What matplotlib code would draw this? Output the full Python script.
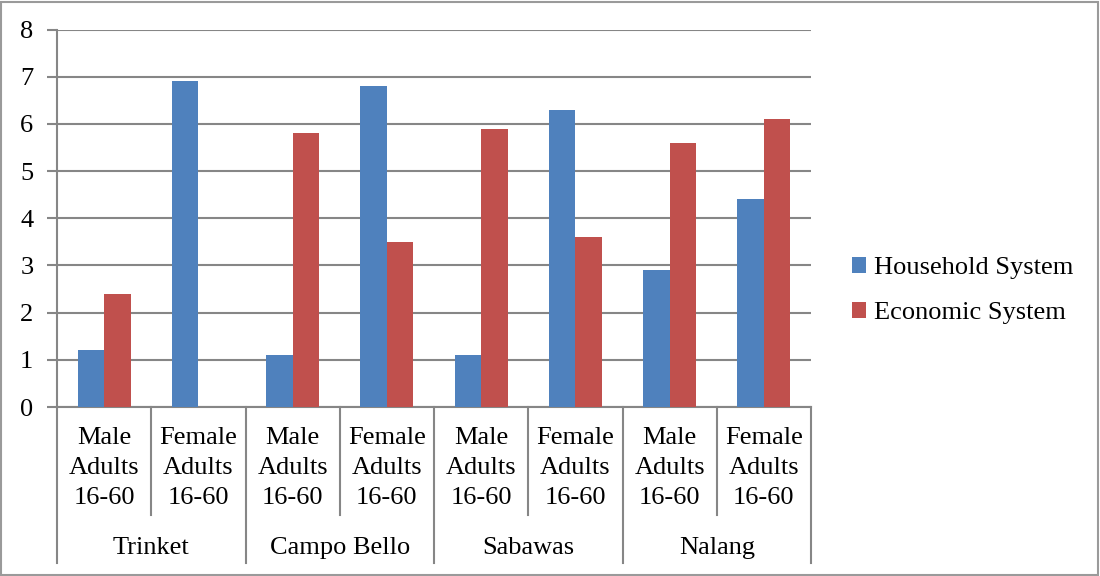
import matplotlib
matplotlib.use('Agg')
import matplotlib.pyplot as plt
import matplotlib.transforms as mtransforms
from matplotlib.patches import Rectangle
import numpy as np

plt.rcParams['font.family'] = ['Liberation Serif', 'DejaVu Serif']

# data
groups = ['Trinket', 'Campo Bello', 'Sabawas', 'Nalang']
sub_labels = ['Male\nAdults\n16-60', 'Female\nAdults\n16-60']
household = [1.2, 6.9, 1.1, 6.8, 1.1, 6.3, 2.9, 4.4]
economic = [2.4, 0, 5.8, 3.5, 5.9, 3.6, 5.6, 6.1]
yticks = [0, 1, 2, 3, 4, 5, 6, 7, 8]

W, H = 1100, 576
fs = 19
fig = plt.figure(figsize=(11, 5.76), dpi=100)

# plot area in pixels
left, right, top, bottom = 57, 811, 29.5, 407
ax = fig.add_axes([left / W, (H - bottom) / H, (right - left) / W, (bottom - top) / H])

grid_c = '#868686'
x = np.arange(len(household))
bw = 0.28
ax.bar(x - bw / 2, household, bw, color='#4F81BD', label='Household System', zorder=3)
ax.bar(x + bw / 2, economic, bw, color='#C0504D', label='Economic System', zorder=3)

ax.set_xlim(-0.5, len(household) - 0.5)
ax.set_ylim(0, 8)
ax.set_yticks(yticks)
ax.set_yticklabels([str(t) for t in yticks], fontsize=fs)
ax.tick_params(axis='y', length=7, width=1.5, color=grid_c, pad=10)
ax.set_xticks([])
ax.yaxis.grid(True, color=grid_c, linewidth=1.5, zorder=0)
for s in ['top', 'right']:
    ax.spines[s].set_visible(False)
for s in ['left', 'bottom']:
    ax.spines[s].set_color(grid_c)
    ax.spines[s].set_linewidth(1.5)

# multi-level category axis
tr = mtransforms.blended_transform_factory(ax.transData, fig.transFigure)
y0 = (H - bottom) / H
y_short = (H - 515) / H
y_long = (H - 563) / H
for i in range(len(household) + 1):
    xs = i - 0.5
    yb = y_long if i % 2 == 0 else y_short
    ax.plot([xs, xs], [y0, yb], color=grid_c, lw=1.5, transform=tr, clip_on=False)

for i in range(len(household)):
    ax.text(i, (H - 468) / H, sub_labels[i % 2], transform=tr, ha='center', va='center',
            fontsize=fs, linespacing=1.45)
for g, name in enumerate(groups):
    ax.text(2 * g + 0.5, (H - 548) / H, name, transform=tr, ha='center', va='center', fontsize=fs)

fig.legend(loc='center left', bbox_to_anchor=(828 / W, (H - 290.5) / H), frameon=False,
           fontsize=fs, handlelength=0.55, handleheight=0.55, handletextpad=0.3,
           labelspacing=0.88)

# chart border
fig.patches.append(Rectangle((1 / W, 1 / H), (W - 3) / W, (H - 3) / H, transform=fig.transFigure,
                             fill=False, edgecolor='#9a9a9a', linewidth=1.5))

fig.savefig('out.png', dpi=100)
